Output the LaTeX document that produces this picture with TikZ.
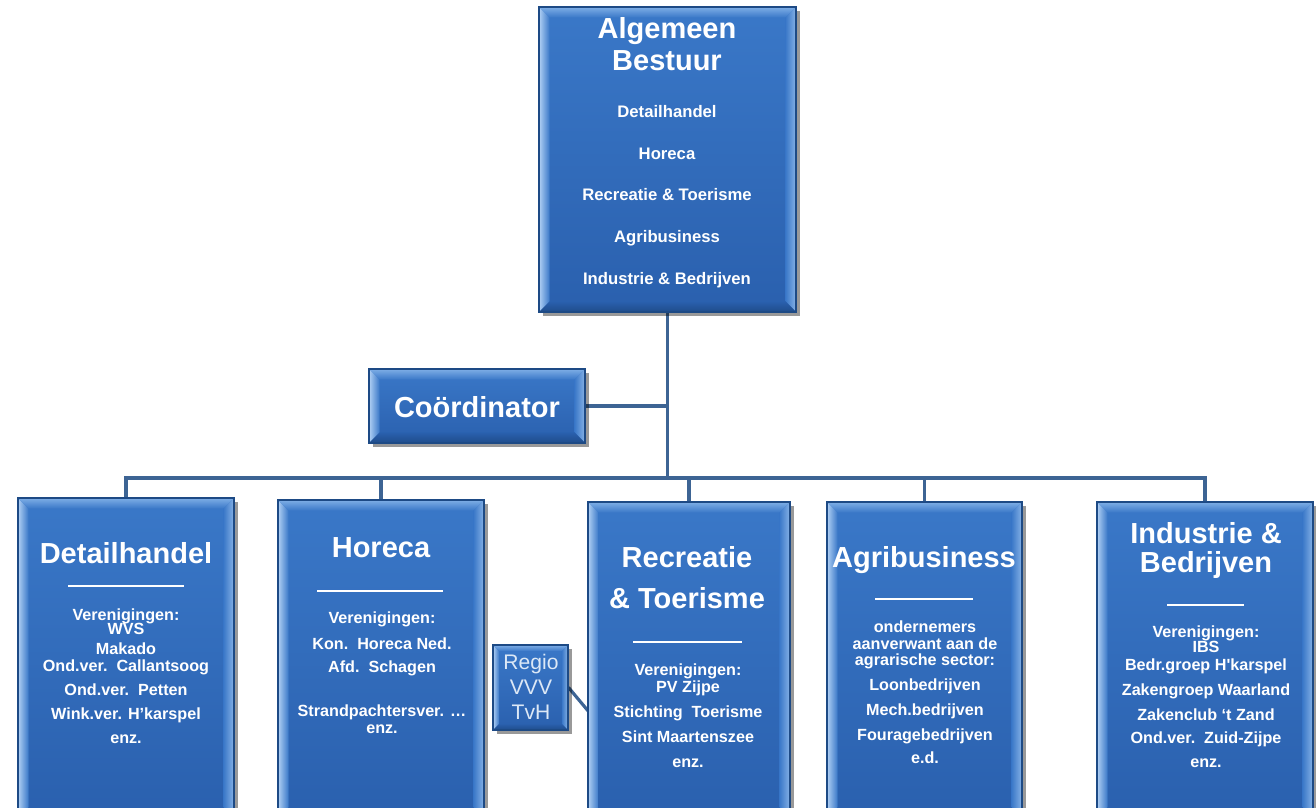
\documentclass[tikz,border=0pt]{standalone}
\usepackage{fontspec}
\setmainfont{Liberation Sans}
\usetikzlibrary{fit,calc,shadows}
\pgfdeclarelayer{background}
\pgfsetlayers{background,main}
\definecolor{boxtop}{HTML}{3A78C8}
\definecolor{boxbot}{HTML}{2A60AE}
\definecolor{boxborder}{HTML}{1D4A85}
\definecolor{bevleft}{HTML}{B0D0F4}
\definecolor{bevtop}{HTML}{7EAEE6}
\definecolor{bevright}{HTML}{86B2E6}
\definecolor{bevbot}{HTML}{1F4C8A}
\definecolor{linec}{HTML}{3D6494}
\definecolor{regiotext}{HTML}{DCE8F6}
\newcommand\bevelpic[1]{%
  \coordinate (bnw) at (path picture bounding box.north west);
  \coordinate (bne) at (path picture bounding box.north east);
  \coordinate (bsw) at (path picture bounding box.south west);
  \coordinate (bse) at (path picture bounding box.south east);
  \shade[left color=bevleft, right color=boxtop] (bsw) -- (bnw) -- ($(bnw)+(#1,-#1)$) -- ($(bsw)+(#1,#1)$) -- cycle;
  \shade[top color=bevtop, bottom color=boxtop] (bnw) -- (bne) -- ($(bne)+(-#1,-#1)$) -- ($(bnw)+(#1,-#1)$) -- cycle;
  \shade[left color=boxtop, right color=bevright] (bne) -- (bse) -- ($(bse)+(-#1,#1)$) -- ($(bne)+(-#1,-#1)$) -- cycle;
  \shade[top color=boxbot, bottom color=bevbot] (bse) -- (bsw) -- ($(bsw)+(#1,#1)$) -- ($(bse)+(-#1,#1)$) -- cycle;
}
\tikzset{
  box/.style={draw=boxborder, line width=0.6pt, top color=boxtop, bottom color=boxbot,
    inner sep=0pt, drop shadow={shadow xshift=2pt,shadow yshift=-2pt,opacity=.4,fill=black},
    path picture={\bevelpic{#1}}},
  box/.default=6pt,
  title/.style={text=white, font=\fontsize{16.5}{18}\selectfont\bfseries, inner sep=0pt,
    text height=12pt, text depth=0pt},
  sub/.style={text=white, font=\fontsize{9.2}{10}\selectfont\bfseries, inner sep=0pt,
    text height=6.6pt, text depth=0pt},
  regiofont/.style={text=regiotext, font=\fontsize{12}{13}\selectfont, inner sep=0pt,
    text height=8.6pt, text depth=0pt},
  rule/.style={draw=white, line width=0.9pt},
  conn/.style={draw=linec, line width=2pt},
}
\begin{document}
\begin{tikzpicture}[x=0.02cm,y=-0.02cm]
\useasboundingbox (0,0) rectangle (1316,808);
% boxes
\node[box, fit={(539,7) (796,312)}] (top) {};
\node[box, fit={(369,369) (585,443)}] (coord) {};
\node[box, fit={(18,498) (234,818)}] (det) {};
\node[box, fit={(278,500) (484,818)}] (hor) {};
\node[box, fit={(588,502) (790,818)}] (rec) {};
\node[box, fit={(827,502) (1022,818)}] (agr) {};
\node[box, fit={(1097,502) (1313,818)}] (ind) {};
\node[box=3.5pt, fit={(493,645) (568,730)}] (regio) {};
% connectors
\coordinate (bus) at (667,478);
\coordinate (rj) at (589,712);
\begin{pgfonlayer}{background}
\draw[conn] (top.south) -- (top.south |- bus);
\draw[conn] (coord.east) -- (coord.east -| top.south);
\draw[conn] (det.north) -- (det.north |- bus) -- (ind.north |- bus) -- (ind.north);
\foreach \n in {hor,rec,agr} \draw[conn] (\n.north) -- (\n.north |- bus);
\draw[conn, line width=1.8pt] (regio.east) -- (rj);
\end{pgfonlayer}
% top box texts
\node[title] (ttop1) at (667,28) {Algemeen};
\node[title] (ttop2) at (667,60) {Bestuur};
\foreach \t/\y [count=\i] in {Detailhandel/112, Horeca/154, Recreatie \& Toerisme/195, Agribusiness/237, Industrie \& Bedrijven/279}
  \node[sub, font=\fontsize{9.5}{10}\selectfont\bfseries] (t\i) at (667,\y) {\t};
% coordinator
\node[title] (tcoord) at (477,407) {Coördinator};
% Detailhandel
\node[title] (tdet) at (126,553) {Detailhandel};
\draw[rule] (68,586) -- (184,586);
\foreach \t/\y [count=\i] in {Verenigingen:/615, WVS/629, Makado/649, Ond.ver.~~Callantsoog/666, Ond.ver.~~Petten/690, Wink.ver. H’karspel/714, enz./738}
  \node[sub] (d\i) at (126,\y) {\t};
% Horeca
\node[title] (thor) at (381,547) {Horeca};
\draw[rule] (317,591) -- (443,591);
\foreach \t/\y [count=\i] in {Verenigingen:/618, Kon.~~Horeca Ned./644, Afd.~~Schagen/667, Strandpachtersver. …/711, enz./728}
  \node[sub] (h\i) at (382,\y) {\t};
% Regio
\node[regiofont] (r1) at (531,662) {Regio};
\node[regiofont] (r2) at (531,687) {VVV};
\node[regiofont] (r3) at (531,712) {TvH};
% Recreatie
\node[title] (trec1) at (687,557) {Recreatie};
\node[title] (trec2) at (687,598) {\& Toerisme};
\draw[rule] (633,642) -- (742,642);
\foreach \t/\y [count=\i] in {Verenigingen:/670, PV Zijpe/687, Stichting~~Toerisme/712, Sint Maartenszee/737, enz./762}
  \node[sub] (c\i) at (688,\y) {\t};
% Agribusiness
\node[title] (tagr) at (924,557) {Agribusiness};
\draw[rule] (875,599) -- (973,599);
\foreach \t/\y [count=\i] in {ondernemers/627, aanverwant aan de/644, agrarische sector:/660, Loonbedrijven/685, Mech.bedrijven/710, Fouragebedrijven/735, e.d./758}
  \node[sub] (a\i) at (925,\y) {\t};
% Industrie
\node[title] (tind1) at (1206,533) {Industrie \&};
\node[title] (tind2) at (1206,562) {Bedrijven};
\draw[rule] (1167,605) -- (1244,605);
\foreach \t/\y [count=\i] in {Verenigingen:/632, IBS/647, Bedr.groep H\textquotesingle karspel/665, Zakengroep Waarland/690, Zakenclub ‘t Zand/715, Ond.ver.~~Zuid-Zijpe/738, enz./762}
  \node[sub] (n\i) at (1206,\y) {\t};
\end{tikzpicture}
\end{document}
